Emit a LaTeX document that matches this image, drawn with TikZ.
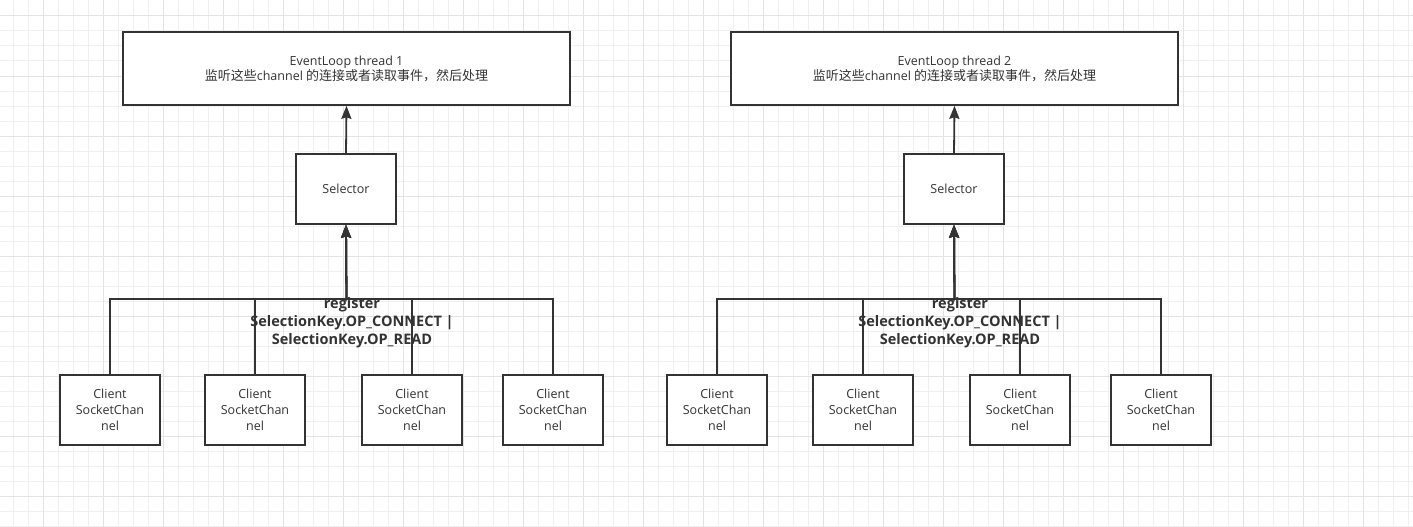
\documentclass[tikz,border=0pt]{standalone}
\usepackage{fontspec}
\setmainfont{Open Sans}
\newfontfamily\cjk{Noto Sans CJK SC}
\usetikzlibrary{arrows.meta}
\definecolor{ink}{HTML}{333333}
\definecolor{gminor}{HTML}{F0F0F0}
\definecolor{gmajor}{HTML}{E3E3E3}
\newcommand{\zh}[1]{{\cjk\fontsize{13}{16}\selectfont #1}}
\tikzset{
  box/.style={draw=ink, line width=1.6pt, fill=white, rectangle, inner sep=2pt,
    align=center, text=ink, font=\fontsize{12.5}{16}\selectfont},
  conn/.style={draw=ink, line width=1.8pt, -{Stealth[length=13pt,width=10pt,inset=1.5pt]}},
  reglabel/.style={text=ink, align=center, inner sep=0pt,
    font=\fontsize{14.5}{18}\selectfont\bfseries},
  gridminor/.style={draw=gminor, line width=1pt},
  gridmajor/.style={draw=gmajor, line width=1pt}
}
\begin{document}
\begin{tikzpicture}[x=1pt,y=-1pt]
\useasboundingbox (0,0) rectangle (1413,527);
\fill[white] (0,0) rectangle (1413,527);
% grid
\foreach \i in {0,...,93} { \draw[gridminor] ({13.3+15*\i},0) -- ({13.3+15*\i},527); }
\foreach \j in {0,...,34} { \draw[gridminor] (0,{16+15*\j}) -- (1413,{16+15*\j}); }
\foreach \i in {0,...,23} { \draw[gridmajor] ({43.3+60*\i},0) -- ({43.3+60*\i},527); }
\foreach \j in {0,...,8} { \draw[gridmajor] (0,{16+60*\j}) -- (1413,{16+60*\j}); }

% left group
\node[box, minimum width=447pt, minimum height=73pt] (top1) at (346.5,68.5)
  {\raisebox{-1pt}{EventLoop thread 1}\\\zh{监听这些}channel \zh{的连接或者读取事件，然后处理}};
\node[box, minimum width=100pt, minimum height=70pt] (sel1) at (346,189) {Selector};
\node[box, minimum width=100pt, minimum height=70pt] (c11) at (110,410) {Client\\SocketChan\\nel};
\node[box, minimum width=100pt, minimum height=70pt] (c12) at (255,410) {Client\\SocketChan\\nel};
\node[box, minimum width=100pt, minimum height=70pt] (c13) at (412,410) {Client\\SocketChan\\nel};
\node[box, minimum width=100pt, minimum height=70pt] (c14) at (553,410) {Client\\SocketChan\\nel};
\coordinate (bus1) at (346.5,299);
\draw[conn] (sel1.north) -- (top1.south);
\draw[conn] (c11.north) |- (bus1) -- (sel1.south);
\draw[conn] (c12.north) |- (bus1) -- (sel1.south);
\draw[conn] (c13.north) |- (bus1) -- (sel1.south);
\draw[conn] (c14.north) |- (bus1) -- (sel1.south);
\node[reglabel] (lab1) at (352,322.5) {register\\SelectionKey.OP\_CONNECT |\\SelectionKey.OP\_READ};

% right group
\node[box, minimum width=447pt, minimum height=73pt] (top2) at (954.5,68.5)
  {\raisebox{-1pt}{EventLoop thread 2}\\\zh{监听这些}channel \zh{的连接或者读取事件，然后处理}};
\node[box, minimum width=100pt, minimum height=70pt] (sel2) at (954,189) {Selector};
\node[box, minimum width=100pt, minimum height=70pt] (c21) at (717,410) {Client\\SocketChan\\nel};
\node[box, minimum width=100pt, minimum height=70pt] (c22) at (863,410) {Client\\SocketChan\\nel};
\node[box, minimum width=100pt, minimum height=70pt] (c23) at (1020,410) {Client\\SocketChan\\nel};
\node[box, minimum width=100pt, minimum height=70pt] (c24) at (1161,410) {Client\\SocketChan\\nel};
\coordinate (bus2) at (954.5,299);
\draw[conn] (sel2.north) -- (top2.south);
\draw[conn] (c21.north) |- (bus2) -- (sel2.south);
\draw[conn] (c22.north) |- (bus2) -- (sel2.south);
\draw[conn] (c23.north) |- (bus2) -- (sel2.south);
\draw[conn] (c24.north) |- (bus2) -- (sel2.south);
\node[reglabel] (lab2) at (960,322.5) {register\\SelectionKey.OP\_CONNECT |\\SelectionKey.OP\_READ};
\end{tikzpicture}
\end{document}
